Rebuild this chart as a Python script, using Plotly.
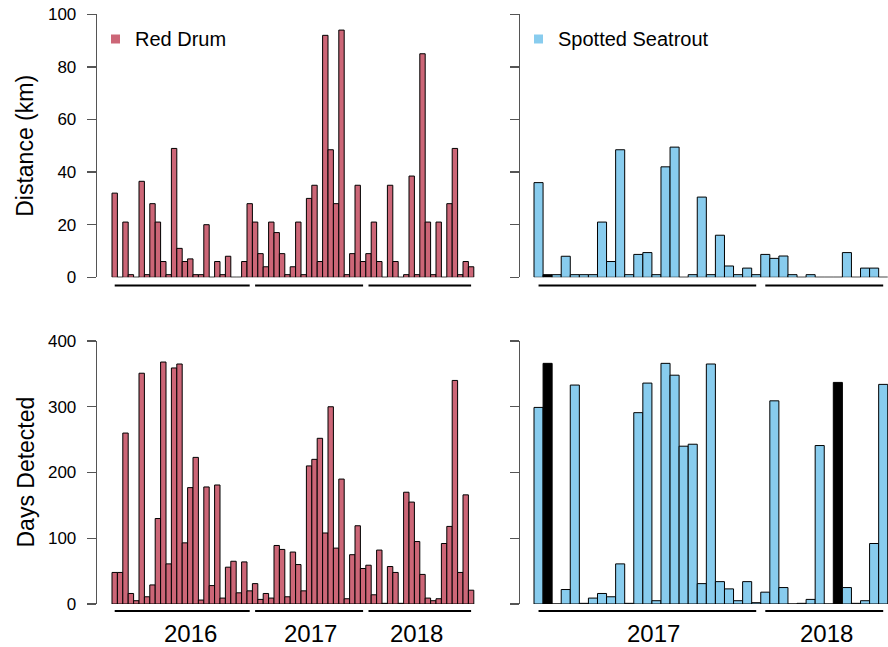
import plotly.graph_objects as go

# ---------------- data ----------------
rd_years = ["2016"] * 26 + ["2017"] * 21 + ["2018"] * 20
rd_distance = [32, 0, 21, 1, 0, 36.5, 1, 28, 21, 6, 1, 49, 11, 6, 7, 1, 1, 20, 0, 6, 1, 8, 0, 0, 6, 28,
               21, 9, 4, 21, 17, 9, 1, 4, 21, 1, 30, 35, 6, 92, 48.5, 28, 94, 1, 9, 35, 6,
               9, 21, 6, 0, 35, 6, 0, 1, 38.5, 1, 85, 21, 1, 21, 0, 28, 49, 1, 6, 4]
rd_days = [48, 48, 260, 16, 5, 351, 11, 29, 130, 368, 61, 359, 365, 93, 177, 223, 6, 178, 28, 181, 9, 56, 65, 17, 64, 20,
           31, 7, 16, 9, 89, 83, 11, 79, 60, 20, 210, 220, 252, 108, 300, 85, 190, 8, 75, 119, 54,
           59, 14, 82, 1, 57, 48, 1, 170, 155, 95, 45, 9, 5, 8, 92, 118, 340, 48, 166, 21]

ss_years = ["2017"] * 25 + ["2018"] * 14
ss_distance = [36, 1, 1, 8, 1, 1, 1, 21, 6, 48.5, 1, 8.7, 9.4, 1, 42, 49.5, 0, 1, 30.5, 1, 16, 4.3, 1, 3.5, 1,
               8.7, 7.2, 8.1, 1, 0, 1, 0, 0, 0, 9.4, 0, 3.5, 3.5, 0]
ss_days = [299, 366, 0, 22, 333, 1, 9, 16, 11, 61, 1, 291, 336, 5, 366, 348, 240, 243, 31, 365, 34, 23, 5, 34, 2,
           18, 309, 25, 0, 1, 7, 241, 0, 337, 25, 1, 5, 92, 334]
ss_flagged = [False, True] + [False] * 31 + [True] + [False] * 5

species = ["Red Drum", "Spotted Seatrout"]
dist_ticks = [0, 20, 40, 60, 80, 100]
days_ticks = [0, 100, 200, 300, 400]

# ---------------- styling ----------------
W, H = 888, 647
RED = "#CC6677"
BLUE = "#88CCEE"
FONT = "Liberation Sans, Arial, sans-serif"
AXC = "#555555"


def px_x(p):
    return p / W


def px_y(p):
    return 1 - p / H


fig = go.Figure()

rd_x = list(range(len(rd_distance)))
ss_x = list(range(len(ss_distance)))
ss_colors = ["black" if f else BLUE for f in ss_flagged]

bar_line = dict(color="black", width=1)
fig.add_trace(go.Bar(x=rd_x, y=rd_distance, marker=dict(color=RED, line=bar_line), width=1,
                     xaxis="x", yaxis="y", showlegend=False))
fig.add_trace(go.Bar(x=rd_x, y=rd_days, marker=dict(color=RED, line=bar_line), width=1,
                     xaxis="x3", yaxis="y3", showlegend=False))
fig.add_trace(go.Bar(x=ss_x, y=ss_distance, marker=dict(color=ss_colors, line=bar_line), width=1,
                     xaxis="x2", yaxis="y2", showlegend=False))
fig.add_trace(go.Bar(x=ss_x, y=ss_days, marker=dict(color=ss_colors, line=bar_line), width=1,
                     xaxis="x4", yaxis="y4", showlegend=False))

# panel geometry (pixels)
rd_left, rd_right, rd_bw, rd_first = 97, 475, 5.4, 112
ss_left, ss_right, ss_bw, ss_first = 520, 888, 9.07, 534
top_t, top_b = 14.3, 277.3
bot_t, bot_b = 341, 604

rd_r0 = -0.5 - (rd_first - rd_left) / rd_bw
rd_range = [rd_r0, rd_r0 + (rd_right - rd_left) / rd_bw]
ss_r0 = -0.5 - (ss_first - ss_left) / ss_bw
ss_range = [ss_r0, ss_r0 + (ss_right - ss_left) / ss_bw]

xa = dict(visible=False, fixedrange=True, automargin=False)
fig.update_layout(
    xaxis=dict(domain=[px_x(rd_left), px_x(rd_right)], range=rd_range, anchor="y", **xa),
    xaxis3=dict(domain=[px_x(rd_left), px_x(rd_right)], range=rd_range, anchor="y3", **xa),
    xaxis2=dict(domain=[px_x(ss_left), px_x(ss_right)], range=ss_range, anchor="y2", **xa),
    xaxis4=dict(domain=[px_x(ss_left), px_x(ss_right)], range=ss_range, anchor="y4", **xa),
)

ya = dict(showline=True, linecolor=AXC, linewidth=1.3, ticks="outside", ticklen=9,
          tickcolor=AXC, tickwidth=1.3, showgrid=False, zeroline=False, automargin=False,
          tickfont=dict(family=FONT, size=17, color="black"), ticklabelstandoff=7,
          ticklabeloverflow="allow", fixedrange=True)
fig.update_layout(
    yaxis=dict(domain=[px_y(top_b), px_y(top_t)], range=[0, 100], tickvals=dist_ticks,
               anchor="x", **ya),
    yaxis2=dict(domain=[px_y(top_b), px_y(top_t)], range=[0, 100], tickvals=dist_ticks,
                showticklabels=False, anchor="x2", **ya),
    yaxis3=dict(domain=[px_y(bot_b), px_y(bot_t)], range=[0, 400], tickvals=days_ticks,
                anchor="x3", **ya),
    yaxis4=dict(domain=[px_y(bot_b), px_y(bot_t)], range=[0, 400], tickvals=days_ticks,
                showticklabels=False, anchor="x4", **ya),
)

shapes = []
annotations = []


def groups(years):
    out = []
    start = 0
    for i in range(1, len(years) + 1):
        if i == len(years) or years[i] != years[start]:
            out.append((years[start], start, i - 1))
            start = i
    return out


# year lines under each panel, labels under bottom panels
label_pos = {("rd", "2016"): 14.1, ("rd", "2017"): 36.3, ("rd", "2018"): 55.8,
             ("ss", "2017"): 12.7, ("ss", "2018"): 31.8}
for key, years, xr_top, xr_bot in (("rd", rd_years, "x", "x3"), ("ss", ss_years, "x2", "x4")):
    for yr, a, b in groups(years):
        for xr, ypx in ((xr_top, top_b + 8.3), (xr_bot, bot_b + 7)):
            shapes.append(dict(type="line", xref=xr, yref="paper", x0=a, x1=b,
                               y0=px_y(ypx), y1=px_y(ypx), line=dict(color="black", width=2)))
        annotations.append(dict(text=yr, xref=xr_bot, yref="paper", x=label_pos[(key, yr)],
                                y=px_y(633), showarrow=False, xanchor="center", yanchor="middle",
                                font=dict(family=FONT, size=24, color="black")))

# legends
for name, col, sx in ((species[0], RED, 111), (species[1], BLUE, 534)):
    shapes.append(dict(type="rect", xref="paper", yref="paper", x0=px_x(sx), x1=px_x(sx + 9),
                       y0=px_y(43.5), y1=px_y(34.5), fillcolor=col, line=dict(width=0)))
    annotations.append(dict(text=name, xref="paper", yref="paper", x=px_x(sx + 22), y=px_y(39.5),
                            showarrow=False, xanchor="left", yanchor="middle",
                            font=dict(family=FONT, size=20, color="black")))

# y titles
for txt, yc in (("Distance (km)", (top_t + top_b) / 2), ("Days Detected", (bot_t + bot_b) / 2)):
    annotations.append(dict(text=txt, xref="paper", yref="paper", x=px_x(25), y=px_y(yc),
                            textangle=-90, showarrow=False, xanchor="center", yanchor="middle",
                            font=dict(family=FONT, size=23, color="black")))

fig.update_layout(
    width=W, height=H, margin=dict(l=0, r=0, t=0, b=0, pad=0, autoexpand=False),
    paper_bgcolor="white", plot_bgcolor="white",
    bargap=0, barmode="overlay", showlegend=False, hovermode=False,
    shapes=shapes, annotations=annotations,
)

fig.write_html("out.html", config={"displayModeBar": False, "staticPlot": True},
               post_script="document.body.style.margin='0';document.body.style.overflow='hidden';")
